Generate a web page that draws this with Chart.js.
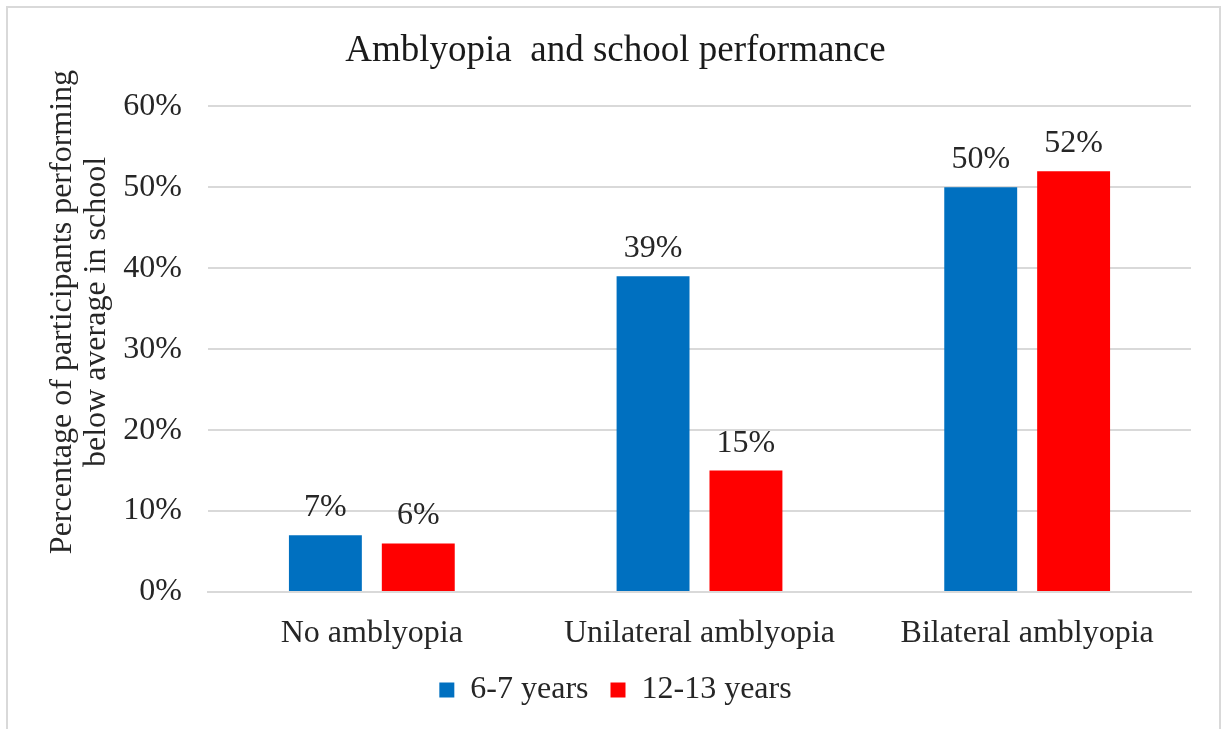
<!DOCTYPE html>
<html lang="en">
<head>
    <meta charset="UTF-8">
    <title>Amblyopia and school performance</title>
    <script src="https://cdn.jsdelivr.net/npm/chart.js"></script>
    <style>
        html, body {
            margin: 0;
            padding: 0;
            background-color: #ffffff;
        }
        #wrap {
            width: 1227px;
            height: 729px;
        }
    </style>
</head>
<body>
    <div id="wrap">
        <canvas id="schoolChart"></canvas>
    </div>

    <script>
        const categories = ['No amblyopia', 'Unilateral amblyopia', 'Bilateral amblyopia'];
        const seriesNames = ['6-7 years', '12-13 years'];
        const younger = [7, 39, 50];
        const older = [6, 15, 52];
        const yAxisTitle = ['Percentage of participants performing', 'below average in school'];
        const yMax = 60;
        const yStep = 10;

        const FONT = '"Liberation Serif", "Times New Roman", serif';
        const TEXT = '#262626';
        const GRID = '#d9d9d9';

        // light frame around the whole chart
        const framePlugin = {
            id: 'frame',
            beforeDraw(chart) {
                const c = chart.ctx;
                c.save();
                c.strokeStyle = GRID;
                c.lineWidth = 2;
                c.strokeRect(7, 7, 1213, 760);
                c.restore();
            }
        };

        // percentage above each bar
        const valueLabels = {
            id: 'valueLabels',
            afterDatasetsDraw(chart) {
                const c = chart.ctx;
                c.save();
                c.font = '32px ' + FONT;
                c.fillStyle = TEXT;
                c.textAlign = 'center';
                c.textBaseline = 'alphabetic';
                chart.data.datasets.forEach((ds, i) => {
                    chart.getDatasetMeta(i).data.forEach((bar, j) => {
                        c.fillText(ds.data[j] + '%', bar.x, bar.y - 19);
                    });
                });
                c.restore();
            }
        };

        // two-line vertical axis title, sitting a bit above the plot centre
        const yTitle = {
            id: 'yTitle',
            afterDraw(chart) {
                const c = chart.ctx;
                c.save();
                c.font = '32px ' + FONT;
                c.fillStyle = TEXT;
                c.textAlign = 'center';
                c.textBaseline = 'middle';
                c.translate(0, 312);
                c.rotate(-Math.PI / 2);
                c.fillText(yAxisTitle[0], 0, 63);
                c.fillText(yAxisTitle[1], 0, 97);
                c.restore();
            }
        };

        document.addEventListener('DOMContentLoaded', function() {
            const ctx = document.getElementById('schoolChart').getContext('2d');
            new Chart(ctx, {
                type: 'bar',
                data: {
                    labels: categories,
                    datasets: [
                        {
                            label: seriesNames[0],
                            data: younger,
                            backgroundColor: '#0070c0'
                        },
                        {
                            label: seriesNames[1],
                            data: older,
                            backgroundColor: '#ff0000'
                        }
                    ]
                },
                options: {
                    responsive: true,
                    maintainAspectRatio: false,
                    animation: false,
                    categoryPercentage: 0.567,
                    barPercentage: 0.785,
                    layout: {
                        padding: { left: 20, right: 16, top: 0, bottom: 13 }
                    },
                    plugins: {
                        title: {
                            display: true,
                            text: 'Amblyopia  and school performance',
                            color: '#1a1a1a',
                            font: { family: FONT, size: 37, weight: 'normal' },
                            padding: { top: 29, bottom: 33 }
                        },
                        legend: {
                            position: 'bottom',
                            labels: {
                                color: TEXT,
                                font: { family: FONT, size: 32 },
                                boxWidth: 15,
                                boxHeight: 15,
                                padding: 22
                            }
                        },
                        tooltip: { enabled: false }
                    },
                    scales: {
                        x: {
                            grid: { display: false },
                            border: { color: GRID, width: 2 },
                            ticks: {
                                color: TEXT,
                                font: { family: FONT, size: 32 },
                                padding: 14
                            },
                            afterFit(scale) { scale.height = 60; }
                        },
                        y: {
                            min: 0,
                            max: yMax,
                            border: { display: false },
                            grid: { color: GRID, lineWidth: 2, drawTicks: false },
                            ticks: {
                                stepSize: yStep,
                                color: TEXT,
                                font: { family: FONT, size: 32 },
                                padding: 26,
                                callback: v => v + '%'
                            },
                            afterFit(scale) { scale.width = 188; }
                        },
                        pad: {
                            position: 'right',
                            display: true,
                            grid: { display: false },
                            border: { display: false },
                            ticks: { display: false },
                            afterFit(scale) { scale.width = 20; }
                        }
                    }
                },
                plugins: [framePlugin, valueLabels, yTitle]
            });
        });
    </script>
</body>
</html>
